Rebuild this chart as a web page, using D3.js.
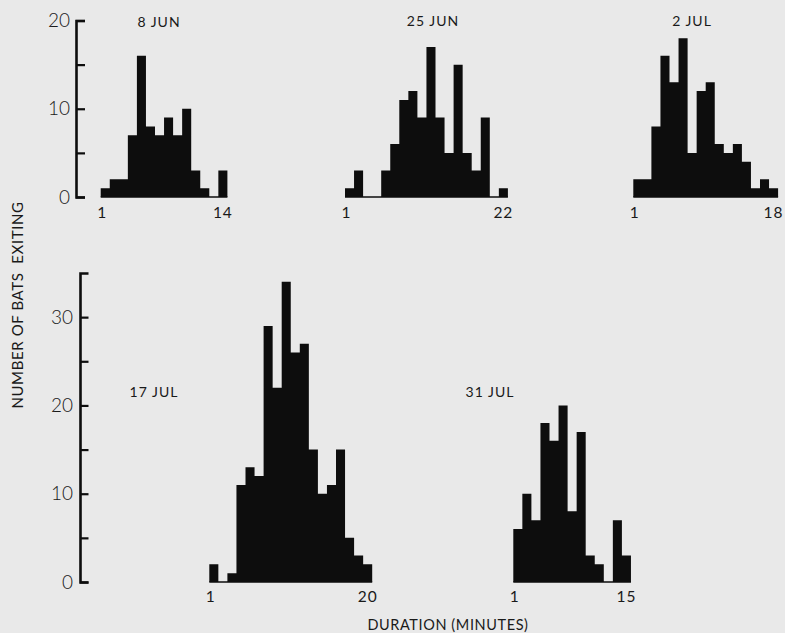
<!DOCTYPE html>
<html>
<head>
<meta charset="utf-8">
<script src="https://cdn.jsdelivr.net/npm/d3@7"></script>
<style>
  html, body { margin: 0; padding: 0; background: #e9e9e9; }
  svg { display: block; }
  text { font-family: Lato, "DejaVu Sans", sans-serif; fill: #1a1a1a; }
</style>
</head>
<body>
<svg id="chart" width="785" height="633"></svg>
<script>
// ---- data (counts of bats per duration bin) ----
const jun8  = [1, 2, 2, 7, 16, 8, 7, 9, 7, 10, 3, 1, 0, 3];
const jun25 = [1, 3, 0, 0, 3, 6, 11, 12, 9, 17, 9, 5, 15, 5, 3, 9, 0, 1];
const jul2  = [2, 2, 8, 16, 13, 18, 5, 12, 13, 6, 5, 6, 4, 1, 2, 1];
const jul17 = [2, 0, 1, 11, 13, 12, 29, 22, 34, 26, 27, 15, 10, 11, 15, 5, 3, 2];
const jul31 = [6, 10, 7, 18, 16, 20, 8, 17, 3, 2, 0, 7, 3];

const panelLabels = ["8 JUN", "25 JUN", "2 JUL", "17 JUL", "31 JUL"];
const rangeLabels = [["1", "14"], ["1", "22"], ["1", "18"], ["1", "20"], ["1", "15"]];
const topTicks = [0, 5, 10, 15, 20];
const bottomTicks = [0, 5, 10, 15, 20, 25, 30];
const yTitle = "NUMBER OF BATS  EXITING";
const xTitle = "DURATION (MINUTES)";

// ---- layout ----
const svg = d3.select("#chart");
const ink = "#0d0d0d";
const bw = 9.05;

const yTop = d3.scaleLinear().domain([0, 20]).range([197, 20.5]);
const yBot = d3.scaleLinear().domain([0, 35]).range([582, 273]);

function drawAxis(scale, ticks, xPos, tickLen, pad, fontSize) {
  const ax = d3.axisLeft(scale)
    .tickValues(ticks)
    .tickSizeInner(-tickLen)
    .tickSizeOuter(-tickLen)
    .tickPadding(pad)
    .tickFormat(d => d % 10 === 0 ? d : "");
  const g = svg.append("g").attr("transform", `translate(${xPos},0)`).call(ax);
  g.select(".domain").attr("stroke", ink).attr("stroke-width", 2.6).attr("fill", "none");
  g.selectAll(".tick line").attr("stroke", ink).attr("stroke-width", 2.2);
  g.selectAll(".tick text")
    .style("font-family", "Lato, 'DejaVu Sans', sans-serif")
    .style("font-weight", 300)
    .attr("font-size", fontSize)
    .attr("fill", "#2a2a2a");
}

drawAxis(yTop, topTicks, 76, 9, 6, 19);
drawAxis(yBot, bottomTicks, 80, 8.5, 7, 19);

const panels = [
  { data: jun8,  x0: 100.7, y: yTop, label: [159, 27], tickY: 218 },
  { data: jun25, x0: 345.0, y: yTop, label: [433, 26], tickY: 218 },
  { data: jul2,  x0: 633.3, y: yTop, label: [692, 26], tickY: 218 },
  { data: jul17, x0: 209.3, y: yBot, label: [154, 397], tickY: 602 },
  { data: jul31, x0: 513.3, y: yBot, label: [490, 397], tickY: 602 }
];

panels.forEach((p, k) => {
  const n = p.data.length;
  const x = d3.scaleLinear().domain([0, n]).range([p.x0, p.x0 + n * bw]);
  const pts = p.data.map((v, i) => [i, v]).concat([[n, p.data[n - 1]]]);
  const area = d3.area()
    .curve(d3.curveStepAfter)
    .x(d => x(d[0]))
    .y0(p.y(0))
    .y1(d => p.y(d[1]));
  const g = svg.append("g");
  // baseline
  g.append("line")
    .attr("x1", x(0)).attr("x2", x(n))
    .attr("y1", p.y(0)).attr("y2", p.y(0))
    .attr("stroke", ink).attr("stroke-width", 1.6);
  g.append("path").attr("d", area(pts)).attr("fill", ink);

  // panel label
  svg.append("text")
    .attr("x", p.label[0]).attr("y", p.label[1])
    .attr("text-anchor", "middle")
    .attr("font-size", 14)
    .attr("letter-spacing", 1)
    .text(panelLabels[k]);

  // range labels
  svg.append("text")
    .attr("x", x(0) + 1).attr("y", p.tickY)
    .attr("text-anchor", "middle")
    .attr("font-size", 15.5)
    .text(rangeLabels[k][0]);
  svg.append("text")
    .attr("x", x(n - 0.5)).attr("y", p.tickY)
    .attr("text-anchor", "middle")
    .attr("font-size", 15.5)
    .attr("letter-spacing", 1)
    .text(rangeLabels[k][1]);
});

// axis titles
svg.append("text")
  .attr("transform", "translate(23,305) rotate(-90)")
  .attr("text-anchor", "middle")
  .attr("font-size", 15)
  .attr("letter-spacing", 0.6)
  .attr("xml:space", "preserve")
  .style("white-space", "pre")
  .text(yTitle);

svg.append("text")
  .attr("x", 448).attr("y", 630)
  .attr("text-anchor", "middle")
  .attr("font-size", 14.5)
  .attr("letter-spacing", 0.6)
  .text(xTitle);
</script>
</body>
</html>
